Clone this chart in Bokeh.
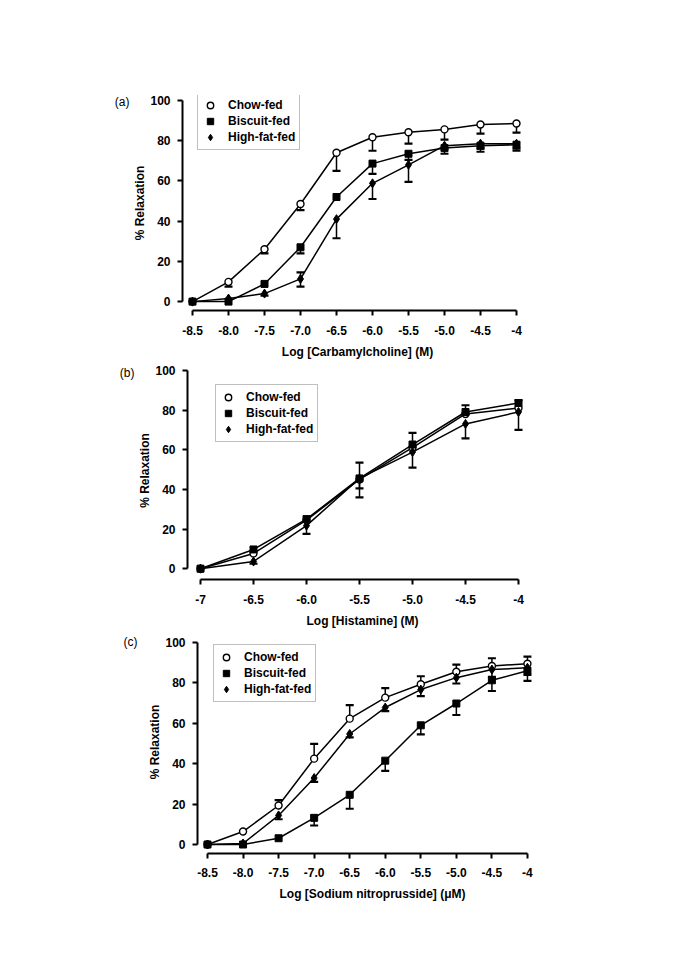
from bokeh.plotting import figure
from bokeh.models import Range1d, FixedTicker, Legend, LegendItem, LinearAxis, Spacer
from bokeh.layouts import column, row
from bokeh.embed import file_html
from bokeh.resources import INLINE

FONT = "Liberation Sans"

# ---------------- data ----------------
# (a) Carbamylcholine
xa = [-8.5, -8.0, -7.5, -7.0, -6.5, -6.0, -5.5, -5.0, -4.5, -4.0]
chow_a = [0, 9.8, 26, 48.5, 74, 81.7, 84.2, 85.6, 88, 88.5]
chow_a_lo = [0, 7.5, 24, 45.5, 65, 75, 78.5, 80.5, 83.5, 84]
chow_a_hi = [0, 9.8, 26, 48.5, 74, 81.7, 84.2, 85.6, 88, 88.5]
bisc_a = [0, 0, 8.8, 27, 52, 68.6, 73.5, 76.3, 77.5, 78]
bisc_a_lo = [0, 0, 8.8, 24, 52, 63.5, 70.5, 73.5, 74.5, 75]
bisc_a_hi = [0, 0, 8.8, 27, 52, 68.6, 73.5, 76.3, 77.5, 78]
hfat_a = [0, 1.5, 4, 11.3, 41, 58.8, 68, 77.5, 78.5, 78.5]
hfat_a_lo = [0, 1.5, 3, 7.5, 31.5, 51, 59.5, 76, 76, 76]
hfat_a_hi = [0, 1.5, 4, 14.5, 41, 58.8, 68, 77.5, 78.5, 78.5]

# (b) Histamine
xb = [-7.0, -6.5, -6.0, -5.5, -5.0, -4.5, -4.0]
chow_b = [0, 7.7, 24.5, 45, 61, 78, 81]
chow_b_lo = [0, 7.7, 24.5, 40.5, 61, 78, 81]
chow_b_hi = [0, 7.7, 24.5, 45, 61, 78, 81]
bisc_b = [0, 9.7, 25, 45.5, 62.6, 79, 83.5]
bisc_b_lo = [0, 9.7, 25, 45.5, 62.6, 79, 83.5]
bisc_b_hi = [0, 9.7, 25, 53.5, 68.5, 82.4, 85]
hfat_b = [0, 3.6, 21.7, 45.5, 58.8, 73, 79]
hfat_b_lo = [0, 2.5, 17.6, 36, 51, 65.7, 70]
hfat_b_hi = [0, 3.6, 21.7, 45.5, 58.8, 73, 79]

# (c) Sodium nitroprusside
xc = [-8.5, -8.0, -7.5, -7.0, -6.5, -6.0, -5.5, -5.0, -4.5, -4.0]
chow_c = [0, 6.4, 19.3, 42.5, 62.3, 72.7, 79.3, 85.5, 88.4, 89.5]
chow_c_lo = [0, 6.4, 19.3, 42.5, 62.3, 72.7, 79.3, 85.5, 88.4, 89.5]
chow_c_hi = [0, 6.4, 22, 49.8, 69, 77.4, 83.3, 89, 92.2, 93]
bisc_c = [0, 0, 3.1, 13.2, 24.6, 41.5, 59, 69.8, 81.3, 86]
bisc_c_lo = [0, 0, 3.1, 9.4, 17.7, 36.4, 54.5, 64.1, 76, 81]
bisc_c_hi = [0, 0, 3.1, 13.2, 24.6, 41.5, 59, 69.8, 81.3, 86]
hfat_c = [0, 0.5, 14.4, 32.9, 54.7, 67.8, 76.7, 82.6, 86.6, 87.5]
hfat_c_lo = [0, 0.5, 12.5, 31, 53, 66, 73.5, 79.7, 83, 84]
hfat_c_hi = [0, 0.5, 14.4, 32.9, 54.7, 67.8, 76.7, 82.6, 86.6, 87.5]

ticks_a = [-8.5, -8.0, -7.5, -7.0, -6.5, -6.0, -5.5, -5.0, -4.5, -4.0]
labels_a = ["-8.5", "-8.0", "-7.5", "-7.0", "-6.5", "-6.0", "-5.5", "-5.0", "-4.5", "-4"]
ticks_b = [-7.0, -6.5, -6.0, -5.5, -5.0, -4.5, -4.0]
labels_b = ["-7", "-6.5", "-6.0", "-5.5", "-5.0", "-4.5", "-4"]
yticks = [0, 20, 40, 60, 80, 100]

series_names = ["Chow-fed", "Biscuit-fed", "High-fat-fed"]

L_BORDER = 182
FRAME_W = 350
R_BORDER = 60
FIG_W = L_BORDER + FRAME_W + R_BORDER


def make_panel(geom, x, series, ticks, labels, xtitle, tag):
    shift = geom["shift"]
    fl = L_BORDER + shift
    fr = fl + FRAME_W
    ft, fb = geom["ft"], geom["fb"]
    x0, xv0, xs = geom["x0px"], geom["xv0"], geom["xs"]
    y0, ys = geom["y0px"], geom["ys"]
    top, h = geom["top"], geom["h"]
    xr = Range1d(xv0 - (x0 - fl) / xs, xv0 + (fr - x0) / xs)
    yr = Range1d((y0 - fb) / ys, (y0 - ft) / ys)
    p = figure(width=FIG_W, height=h, x_range=xr, y_range=yr,
               output_backend="svg", toolbar_location=None, title_location=None,
               min_border_left=L_BORDER, min_border_right=R_BORDER,
               min_border_top=ft - top, min_border_bottom=top + h - fb)
    p.outline_line_color = None
    p.xgrid.visible = False
    p.ygrid.visible = False
    p.background_fill_color = "white"
    p.border_fill_color = "white"

    for ax in (p.xaxis[0], p.yaxis[0]):
        ax.axis_line_width = 2
        ax.axis_line_color = "black"
        ax.major_tick_line_width = 2
        ax.major_tick_line_color = "black"
        ax.major_tick_out = 5
        ax.major_tick_in = 0
        ax.minor_tick_out = 0
        ax.minor_tick_in = 0
        ax.major_label_text_font = FONT
        ax.major_label_text_font_style = "bold"
        ax.major_label_text_font_size = "12px"
        ax.major_label_text_color = "black"
        ax.axis_label_text_font = FONT
        ax.axis_label_text_font_style = "bold"
        ax.axis_label_text_font_size = "12px"
        ax.axis_label_text_color = "black"
    xa_ = p.xaxis[0]
    xa_.ticker = FixedTicker(ticks=ticks)
    xa_.major_label_overrides = {t: l for t, l in zip(ticks, labels)}
    xa_.bounds = (ticks[0], ticks[-1])
    xa_.axis_label = xtitle
    xa_.major_label_standoff = geom["xl_standoff"]
    xa_.axis_label_standoff = 7
    ya_ = p.yaxis[0]
    ya_.ticker = FixedTicker(ticks=yticks)
    ya_.bounds = (0, 100)
    ya_.axis_label = "% Relaxation"
    ya_.major_label_standoff = 7
    ya_.axis_label_standoff = 0

    # panel tag "(a)" etc. as the single label of an extra, line-less left axis
    tag_val = (y0 - geom["tag_y"]) / ys
    tag_ax = LinearAxis(ticker=FixedTicker(ticks=[tag_val]),
                        major_label_overrides={tag_val: tag},
                        axis_line_color=None, major_tick_line_color=None,
                        major_tick_out=0, major_tick_in=0, minor_tick_out=0, minor_tick_in=0,
                        major_label_standoff=geom["tag_standoff"],
                        major_label_text_font=FONT, major_label_text_font_size="12px",
                        major_label_text_font_style="normal", major_label_text_color="black")
    p.add_layout(tag_ax, "left")

    renderers = []
    styles = [
        dict(marker="circle", size=7, fill_color="white", line_color="black", line_width=1.4),
        dict(marker="square", size=7, fill_color="black", line_color="black", line_width=1),
        dict(marker="diamond", size=9, fill_color="black", line_color="black", line_width=1),
    ]
    for (y, lo, hi) in series:
        p.line(x, y, line_color="black", line_width=1.5)
    for (y, lo, hi) in series:
        for bound in (lo, hi):
            xs_, ys_, bs_ = [], [], []
            for xi, yi, bi in zip(x, y, bound):
                if abs(bi - yi) > 0.05:
                    xs_.append(xi); ys_.append(yi); bs_.append(bi)
            if xs_:
                p.segment(xs_, ys_, xs_, bs_, line_color="black", line_width=1.5)
                p.scatter(xs_, bs_, marker="dash", size=8, line_color="black", line_width=2.2)
    for (y, lo, hi), st in zip(series, styles):
        renderers.append(p.scatter(x, y, **st))

    lg = Legend(items=[LegendItem(label=n, renderers=[r]) for n, r in zip(series_names, renderers)],
                location=(geom["lgx"] - fl, fb - geom["lgy"]))
    lg.label_text_font = FONT
    lg.label_text_font_style = "bold"
    lg.label_text_font_size = "12px"
    lg.label_text_color = "black"
    lg.glyph_width = 16
    lg.glyph_height = 16
    lg.label_height = 16
    lg.label_standoff = 10
    lg.spacing = 0
    lg.padding = 4
    lg.margin = 0
    lg.border_line_color = "#808080"
    lg.border_line_width = 1
    lg.background_fill_color = "white"
    lg.background_fill_alpha = 1
    p.add_layout(lg)

    if shift:
        return row(Spacer(width=shift, height=h), p)
    return p


geom_a = dict(top=0, h=361, shift=0, ft=95, fb=313, x0px=192, xv0=-8.5, xs=72.0,
              y0px=304, ys=2.04, lgx=197, lgy=153, tag_y=102, tag_standoff=1, xl_standoff=10)
geom_b = dict(top=361, h=269, shift=5, ft=361, fb=583, x0px=200, xv0=-7.0, xs=106.0,
              y0px=572, ys=2.02, lgx=215, lgy=446, tag_y=364, tag_standoff=1, xl_standoff=10)
geom_c = dict(top=630, h=330, shift=15, ft=630, fb=853, x0px=207, xv0=-8.5, xs=71.1,
              y0px=844, ys=2.02, lgx=213, lgy=702, tag_y=633, tag_standoff=8, xl_standoff=9)

pa = make_panel(geom_a, xa,
                [(chow_a, chow_a_lo, chow_a_hi), (bisc_a, bisc_a_lo, bisc_a_hi), (hfat_a, hfat_a_lo, hfat_a_hi)],
                ticks_a, labels_a, "Log [Carbamylcholine] (M)", "(a)")
pb = make_panel(geom_b, xb,
                [(chow_b, chow_b_lo, chow_b_hi), (bisc_b, bisc_b_lo, bisc_b_hi), (hfat_b, hfat_b_lo, hfat_b_hi)],
                ticks_b, labels_b, "Log [Histamine] (M)", "(b)")
pc = make_panel(geom_c, xc,
                [(chow_c, chow_c_lo, chow_c_hi), (bisc_c, bisc_c_lo, bisc_c_hi), (hfat_c, hfat_c_lo, hfat_c_hi)],
                ticks_a, labels_a, "Log [Sodium nitroprusside] (\u03bcM)", "(c)")

layout = column(pa, pb, pc, spacing=0)
open("out.html", "w").write(file_html(layout, INLINE))
